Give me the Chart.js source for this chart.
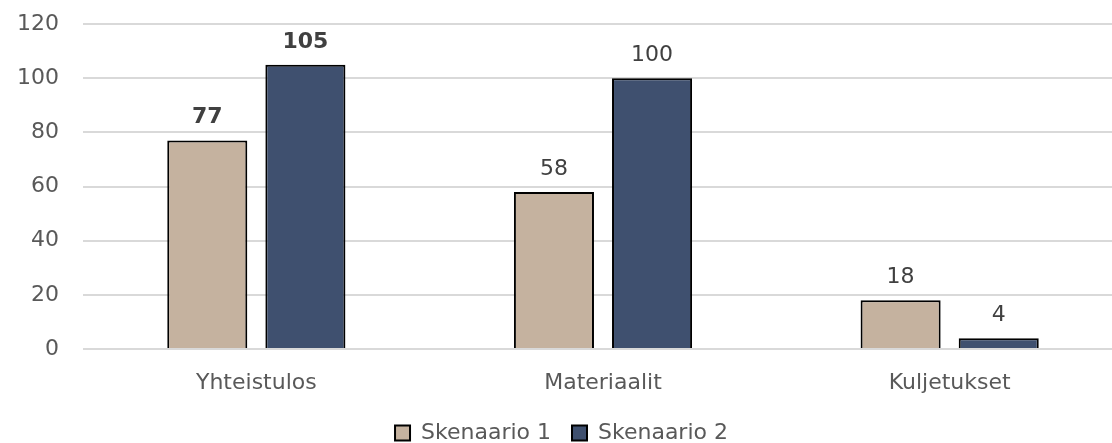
<!DOCTYPE html>
<html>
<head>
<meta charset="utf-8">
<script src="https://cdn.jsdelivr.net/npm/chart.js@4/dist/chart.umd.min.js"></script>
<style>
  html, body { margin: 0; padding: 0; background: #fff; overflow: hidden; }
  #wrap { width: 1112px; height: 443px; overflow: hidden; }
</style>
</head>
<body>
<div id="wrap"><canvas id="chart" width="1123" height="454"></canvas></div>
<script>
const categories = ["Yhteistulos", "Materiaalit", "Kuljetukset"];
const skenaario1 = [77, 58, 18];
const skenaario2 = [105, 100, 4];
const seriesNames = ["Skenaario 1", "Skenaario 2"];
// which labels are bold (first category only)
const boldLabels = [[true, false, false], [true, false, false]];

const FONT = "'DejaVu Sans', Verdana, sans-serif";
const FS = 22;

const valueLabels = {
  id: "valueLabels",
  afterDatasetsDraw(chart) {
    const ctx = chart.ctx;
    ctx.save();
    ctx.textAlign = "center";
    ctx.textBaseline = "alphabetic";
    chart.data.datasets.forEach((ds, i) => {
      chart.getDatasetMeta(i).data.forEach((bar, j) => {
        const bold = boldLabels[i][j];
        ctx.font = (bold ? "bold " : "") + FS + "px " + FONT;
        ctx.fillStyle = "#404040";
        ctx.fillText(ds.data[j], bar.x, bar.y - 17);
      });
    });
    ctx.restore();
  }
};

new Chart(document.getElementById("chart"), {
  type: "bar",
  data: {
    labels: categories,
    datasets: [
      {
        label: seriesNames[0],
        data: skenaario1,
        backgroundColor: "#c5b29f",
        borderColor: "#000",
        borderWidth: 2,
        categoryPercentage: 0.566,
        barPercentage: 0.816,
      },
      {
        label: seriesNames[1],
        data: skenaario2,
        backgroundColor: "#3f506f",
        borderColor: "#000",
        borderWidth: 2,
        categoryPercentage: 0.566,
        barPercentage: 0.816,
      },
    ],
  },
  options: {
    responsive: false,
    animation: false,
    layout: { padding: { top: 24, right: 0, left: 0, bottom: 0 } },
    plugins: {
      legend: {
        position: "bottom",
        labels: {
          font: { family: FONT, size: FS },
          color: "#595959",
          boxWidth: 15,
          boxHeight: 15,
          padding: 21,
        },
      },
      tooltip: { enabled: false },
    },
    scales: {
      x: {
        grid: { display: false, drawTicks: false, tickLength: 0 },
        border: { display: false },
        ticks: {
          font: { family: FONT, size: FS },
          color: "#595959",
          padding: 21,
        },
        afterFit(axis) { axis.height = 52; },
      },
      y: {
        min: 0,
        max: 120,
        ticks: {
          stepSize: 20,
          font: { family: FONT, size: FS },
          color: "#595959",
          padding: 24,
        },
        grid: { color: "#d9d9d9", lineWidth: 2, drawTicks: false },
        border: { display: false },
        afterFit(axis) {
          axis.width = 83;
          axis.paddingTop = 0;
          axis.paddingBottom = 0;
        },
      },
    },
  },
  plugins: [valueLabels],
});
</script>
</body>
</html>
